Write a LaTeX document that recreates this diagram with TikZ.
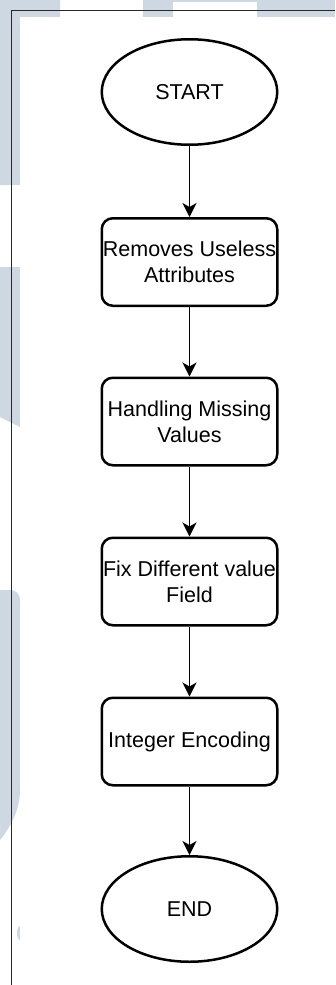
\documentclass[tikz,border=0pt]{standalone}
\usepackage{fontspec}
\setmainfont{Liberation Sans}
\usetikzlibrary{arrows.meta,shapes.geometric}
\definecolor{wmark}{RGB}{205,216,226}
\definecolor{framecol}{RGB}{40,40,40}
\begin{document}
\begin{tikzpicture}[x=1pt,y=-1pt,
  term/.style={ellipse, draw, line width=2.5pt, minimum width=175.5pt,
    minimum height=105.5pt, inner sep=0pt, font=\fontsize{21.5}{26}\selectfont},
  proc/.style={rectangle, rounded corners=11pt, draw, line width=2.5pt,
    minimum width=175.5pt, minimum height=87.5pt, inner sep=0pt, align=center,
    font=\fontsize{21.5}{26}\selectfont},
  flow/.style={-{Stealth[length=14pt,width=14pt,inset=4pt]}, line width=1.5pt}]

\useasboundingbox (0,0) rectangle (335,985);

% watermark shapes of the page behind the figure
\fill[wmark] (0,0) -- (60,0) -- (60,17) -- (20,17) -- (20,185) -- (0,185) -- cycle;
\fill[wmark] (143,0) rectangle (173,17);
\fill[wmark] (173,0) rectangle (257,2);
\fill[wmark] (257,0) rectangle (335,17);
\fill[wmark] (0,267) -- (20,267) -- (20,427) -- (0,417) -- cycle;
\fill[wmark] (0,590) -- (10,590) .. controls (16,590) and (20,594) .. (20,600)
  -- (20,790) .. controls (20,810) and (10,828) .. (0,840) -- cycle;
\fill[wmark] (20,933) ellipse [x radius=3, y radius=7];

% white figure area and its frame
\fill[white] (20,17) rectangle (335,985);
\draw[framecol, line width=1pt] (335,10) -- (11.5,10) -- (11.5,985);

% flowchart
\node[term] (start) at (189.5,92) {START};
\node[proc] (rm)  at (189.5,262)   {Removes Useless\\Attributes};
\node[proc] (mv)  at (189.5,421.5) {Handling Missing\\Values};
\node[proc] (fx)  at (189.5,581.5) {Fix Different value\\Field};
\node[proc] (enc) at (189.5,741.5) {Integer Encoding};
\node[term] (end) at (189.5,909) {END};

\draw[flow] (start) -- (rm);
\draw[flow] (rm) -- (mv);
\draw[flow] (mv) -- (fx);
\draw[flow] (fx) -- (enc);
\draw[flow] (enc) -- (end);
\end{tikzpicture}
\end{document}
